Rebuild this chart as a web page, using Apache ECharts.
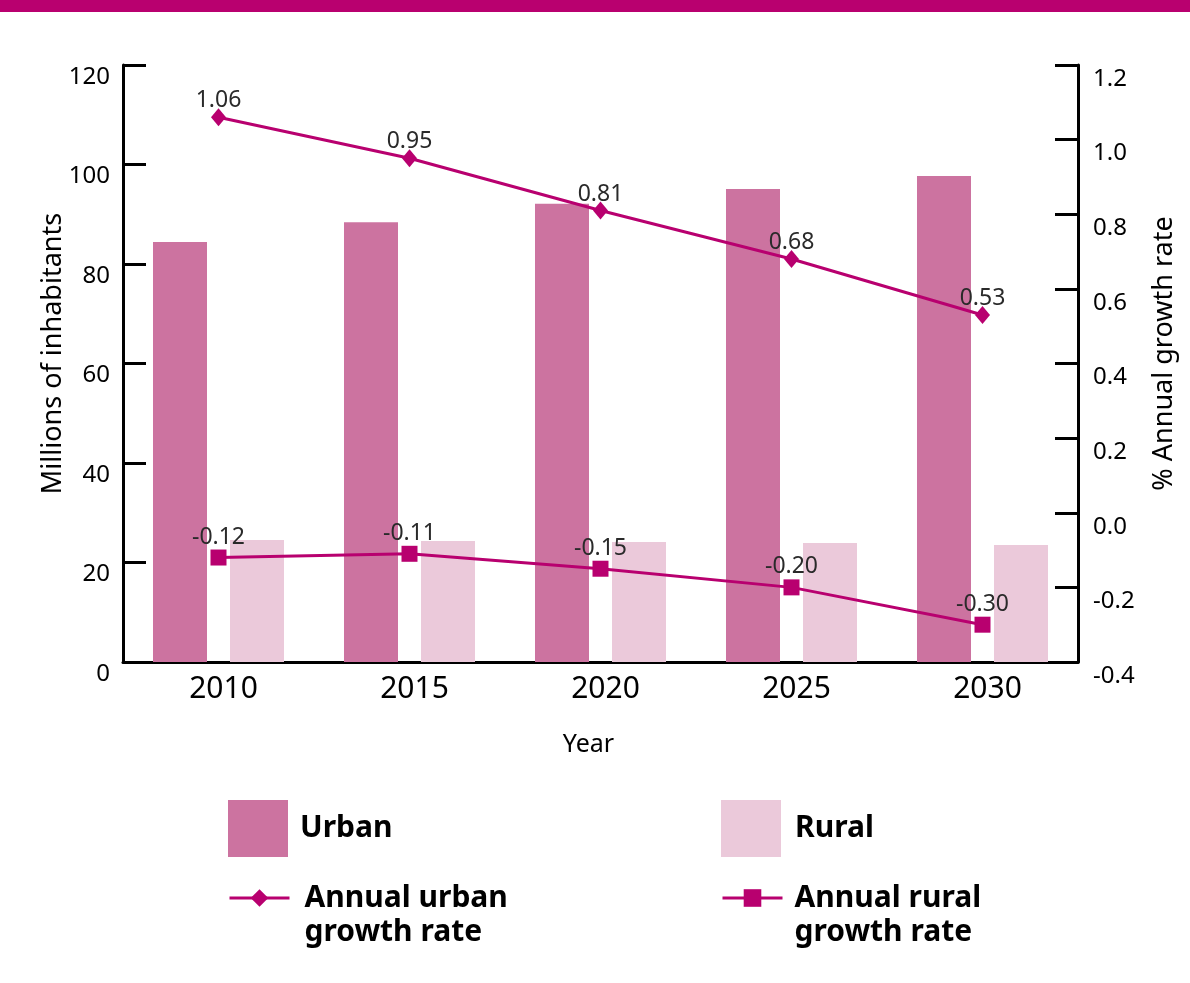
<!DOCTYPE html>
<html>
<head>
<meta charset="utf-8">
<script src="https://cdn.jsdelivr.net/npm/echarts@6/dist/echarts.min.js"></script>
<style>
html,body{margin:0;padding:0;background:#fff;}
#chart{width:1190px;height:983px;}
</style>
</head>
<body>
<div id="chart"></div>
<script>
const years = ['2010', '2015', '2020', '2025', '2030'];
const urbanPop = [84.4, 88.4, 92.1, 95.1, 97.7];
const ruralPop = [24.5, 24.3, 24.1, 23.9, 23.5];
const urbanRate = [1.06, 0.95, 0.81, 0.68, 0.53];
const ruralRate = [-0.12, -0.11, -0.15, -0.20, -0.30];
const leftTicks = { min: 0, max: 120, interval: 20 };
const rightTicks = { min: -0.4, max: 1.2, interval: 0.2 };

const FONT = 'Noto Sans';
const LINE = '#b8006f';
const URBAN = '#cc73a0';
const RURAL = '#ebc9da';
const legendNames = {
  'Urban': 'Urban',
  'Rural': 'Rural',
  'Annual urban growth rate': '\nAnnual urban\ngrowth rate',
  'Annual rural growth rate': '\nAnnual rural\ngrowth rate'
};

const chart = echarts.init(document.getElementById('chart'), null, { renderer: 'canvas' });

function legendItem(name, left, top, w, h, icon, padLeft, lh) {
  const o = {
    data: [name],
    left: left, top: top,
    padding: 0,
    itemWidth: w, itemHeight: h,
    selectedMode: false,
    formatter: n => legendNames[n],
    lineStyle: { width: 3 },
    textStyle: {
      fontFamily: FONT, fontSize: 30, fontWeight: 'bold', color: '#000',
      lineHeight: lh,
      padding: [0, 0, 0, padLeft]
    }
  };
  if (icon) o.icon = icon;
  return o;
}

const option = {
  backgroundColor: '#fff',
  animation: false,
  textStyle: { fontFamily: FONT },
  graphic: [{
    type: 'rect', left: 0, top: 0,
    shape: { width: 1190, height: 12 },
    style: { fill: '#b9006f' }
  }],
  grid: { left: 123, right: 112, top: 65, bottom: 321, containLabel: false },
  legend: [
    legendItem('Urban', 228, 800, 60, 57, 'rect', 7, 36),
    legendItem('Rural', 721, 800, 60, 57, 'rect', 9, 36),
    legendItem('Annual urban growth rate', 228, 847, 60, 22, null, 10, 34),
    legendItem('Annual rural growth rate', 721, 847, 60, 22, null, 7, 34)
  ],
  xAxis: {
    type: 'category',
    data: years,
    boundaryGap: true,
    name: 'Year',
    nameLocation: 'middle',
    nameGap: 70,
    nameMoveOverlap: false,
    nameTextStyle: { fontFamily: FONT, fontSize: 25, color: '#000', padding: [0, 24, 0, 0] },
    axisLine: { lineStyle: { color: '#000', width: 3 } },
    axisTick: { inside: true, length: 14, lineStyle: { color: '#000', width: 3 } },
    axisLabel: { fontFamily: FONT, fontSize: 30, color: '#000', margin: 12, padding: [0, 0, 0, 10] },
    splitLine: { show: false }
  },
  yAxis: [{
    type: 'value',
    position: 'left',
    min: leftTicks.min, max: leftTicks.max, interval: leftTicks.interval,
    name: 'Millions of inhabitants',
    nameLocation: 'middle',
    nameGap: 56,
    nameMoveOverlap: false,
    nameTextStyle: { fontFamily: FONT, fontSize: 27, color: '#000', padding: [0, 0, 0, 20] },
    axisLine: { show: true, lineStyle: { color: '#000', width: 3 } },
    axisTick: { show: true, inside: true, length: 23, lineStyle: { color: '#000', width: 3 } },
    axisLabel: { fontFamily: FONT, fontSize: 24, color: '#000', margin: 13, verticalAlign: 'top', lineHeight: 24 },
    splitLine: { show: false }
  }, {
    type: 'value',
    position: 'right',
    min: rightTicks.min, max: rightTicks.max, interval: rightTicks.interval,
    name: '% Annual growth rate',
    nameLocation: 'middle',
    nameRotate: 90,
    nameGap: 73,
    nameMoveOverlap: false,
    nameTextStyle: { fontFamily: FONT, fontSize: 27, color: '#000', padding: [0, 0, 0, 20] },
    axisLine: { show: true, lineStyle: { color: '#000', width: 3 } },
    axisTick: { show: true, inside: true, length: 23, lineStyle: { color: '#000', width: 3 } },
    axisLabel: {
      fontFamily: FONT, fontSize: 24, color: '#000', margin: 15, verticalAlign: 'top', lineHeight: 28,
      formatter: v => (Math.abs(v) < 1e-9 ? '0.0' : v.toFixed(1))
    },
    splitLine: { show: false }
  }],
  series: [{
    name: 'Urban', type: 'bar', yAxisIndex: 0,
    data: urbanPop,
    barWidth: 54, barGap: '42.6%',
    itemStyle: { color: URBAN }
  }, {
    name: 'Rural', type: 'bar', yAxisIndex: 0,
    data: ruralPop,
    barWidth: 54, barGap: '42.6%',
    itemStyle: { color: RURAL }
  }, {
    name: 'Annual urban growth rate', type: 'line', yAxisIndex: 1,
    data: urbanRate,
    symbol: 'diamond', symbolSize: [15, 18],
    lineStyle: { color: LINE, width: 3 },
    itemStyle: { color: LINE },
    z: 5,
    label: {
      show: true, position: 'top', distance: -4,
      fontFamily: FONT, fontSize: 23, color: '#2a2a2a',
      formatter: p => p.value.toFixed(2)
    }
  }, {
    name: 'Annual rural growth rate', type: 'line', yAxisIndex: 1,
    data: ruralRate,
    symbol: 'rect', symbolSize: 16,
    lineStyle: { color: LINE, width: 3 },
    itemStyle: { color: LINE },
    z: 5,
    label: {
      show: true, position: 'top', distance: 1,
      fontFamily: FONT, fontSize: 23, color: '#2a2a2a',
      formatter: p => p.value.toFixed(2)
    }
  }]
};
chart.setOption(option);
</script>
</body>
</html>
